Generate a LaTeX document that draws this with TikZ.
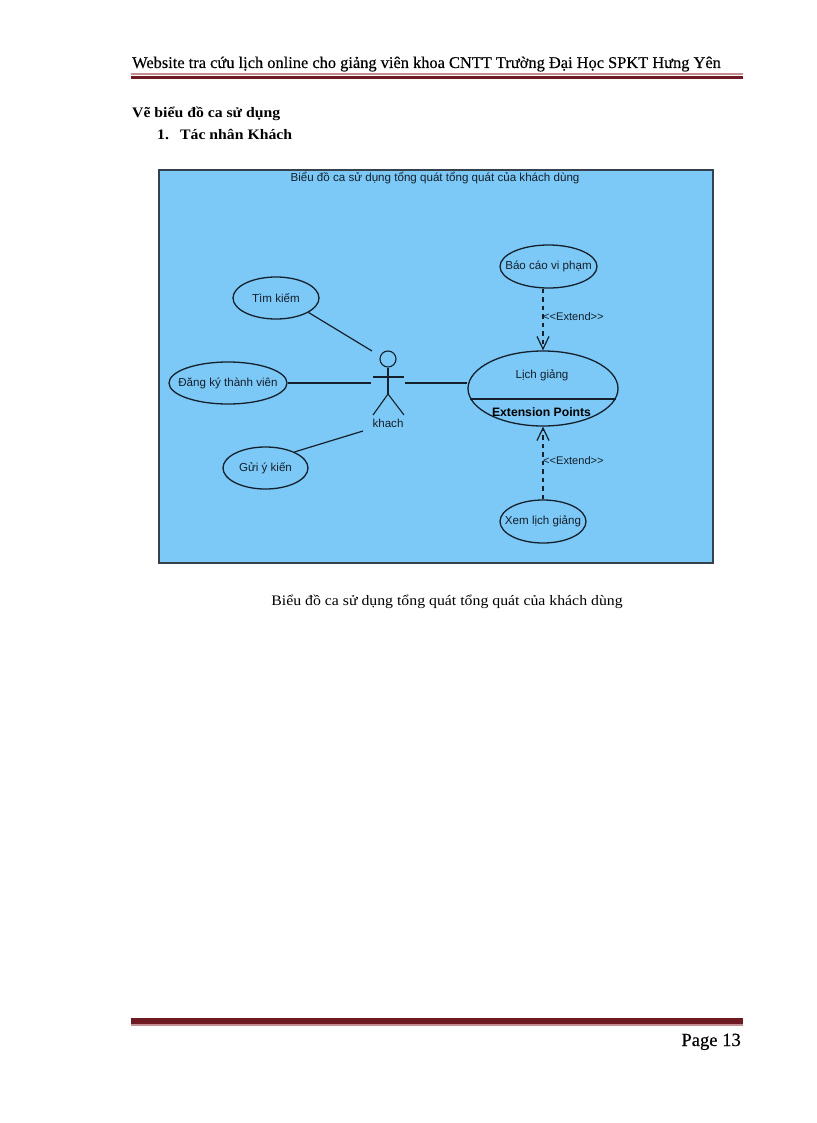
\documentclass[tikz,border=0pt]{standalone}
\usepackage{fontspec}
\setmainfont{Liberation Serif}
\setsansfont{Liberation Sans}
\newfontfamily\headfont[FakeBold=0.25]{Liberation Serif}
\usetikzlibrary{shapes.geometric,arrows.meta}
\definecolor{skyfill}{HTML}{7CC8F6}
\definecolor{ink}{HTML}{14202C}
\definecolor{ruledark}{HTML}{6E1A22}
\definecolor{rulelight}{HTML}{C48F92}
\newcommand{\dsf}{\sffamily\fontsize{11.6}{13}\selectfont}
\tikzset{
  x=1pt,y=-1pt,
  label text/.style={inner sep=0pt,font=\dsf,text=ink},
  usecase/.style={ellipse,draw=ink,line width=1.3pt,inner sep=0pt,label={[label text]center:#1}},
  assoc/.style={draw=ink,line width=1.2pt},
  stick/.style={draw=ink,line width=1.1pt},
  extend/.style={draw=ink,line width=1.2pt,dash pattern=on 4.5pt off 4pt,-{Straight Barb[length=12.5pt,width=12pt,line width=1.2pt]}},
  pagetext/.style={inner sep=0pt,anchor=base west,text=black},
  boldtext/.style={pagetext,font=\bfseries\fontsize{14.5}{16}\selectfont},
  rulethin/.style={draw=rulelight,line width=2.2pt},
  rulethick/.style={draw=ruledark,line width=3.4pt}
}
\begin{document}
\begin{tikzpicture}
\useasboundingbox (0,0) rectangle (816,1123);
\fill[white] (0,0) rectangle (816,1123);
% header
\node[pagetext,font=\headfont\fontsize{16.4}{18}\selectfont] (head) at (132,68) {Website tra cứu lịch online cho giảng viên khoa CNTT Trường Đại Học SPKT Hưng Yên};
\draw[rulethin] (131,74.4) -- (743,74.4);
\draw[rulethick] (131,77.7) -- (743,77.7);
% headings
\node[boldtext] (sec) at (132,118) {\scalebox{1.085}[1]{Vẽ biểu đồ ca sử dụng}};
\node[boldtext] (num) at (157,140) {\scalebox{1.085}[1]{1.}};
\node[boldtext] (sub) at (180,140) {\scalebox{1.085}[1]{Tác nhân Khách}};
% diagram frame
\node[draw=ink!85,line width=1.1pt,fill=skyfill,minimum width=554pt,minimum height=393pt,inner sep=0pt] (frame) at (436,366.5) {};
\node[label text] (title) at (435,178.5) {Biểu đồ ca sử dụng tổng quát tổng quát của khách dùng};
% use cases
\node[usecase={Tìm kiếm},minimum width=86pt,minimum height=42pt] (tim) at (276,298) {};
\node[usecase={Đăng ký thành viên},minimum width=118pt,minimum height=42pt] (dang) at (228,383) {};
\node[usecase={Gửi ý kiến},minimum width=85pt,minimum height=42pt] (gui) at (265.5,468) {};
\node[usecase={Báo cáo vi phạm},minimum width=97pt,minimum height=43pt] (bao) at (548.5,266.5) {};
\node[usecase={Xem lịch giảng},minimum width=86pt,minimum height=43pt] (xem) at (543,521.5) {};
\node[ellipse,draw=ink,line width=1.3pt,inner sep=0pt,minimum width=150pt,minimum height=75pt] (lich) at (543,388.5) {};
\node[label text] (lichtext) at (542,375.5) {Lịch giảng};
\node[label text,font=\sffamily\bfseries\fontsize{12.2}{13}\selectfont,text=black] (ext) at (541.5,412) {Extension Points};
\coordinate (divl) at (470,399);
\coordinate (divr) at (616,399);
\draw[assoc] (divl) -- (divr);
% actor
\node[circle,draw=ink,line width=1.1pt,minimum size=16pt,inner sep=0pt] (head actor) at (388,359) {};
\coordinate (hip) at (388,394);
\coordinate (armL) at (373,377);
\coordinate (armR) at (404,377);
\coordinate (footL) at (373,415);
\coordinate (footR) at (404,415);
\draw[stick] (head actor) -- (hip);
\draw[stick,line width=1.4pt] (armL) -- (armR);
\draw[stick] (footL) -- (hip) -- (footR);
\node[label text] (khach) at (388,423.5) {khach};
% associations
\coordinate (aTim) at (372,351);
\coordinate (aDang) at (371,383);
\coordinate (aGui) at (363,431);
\coordinate (aLich) at (405,383);
\draw[assoc] (tim.-24) -- (aTim);
\draw[assoc] (dang) -- (aDang);
\draw[assoc] (gui.29) -- (aGui);
\draw[assoc] (aLich) -- (lich.west |- aLich);
% extends
\draw[extend] (bao.south -| lich.north) -- (lich.north);
\draw[extend] (xem.north) -- (lich.south);
\node[label text,anchor=west,font=\sffamily\fontsize{11.1}{13}\selectfont] (ex1) at (543,317) {<{}<Extend>{}>};
\node[label text,anchor=west,font=\sffamily\fontsize{11.1}{13}\selectfont] (ex2) at (543,461) {<{}<Extend>{}>};
% caption
\node[inner sep=0pt,font=\fontsize{14.5}{16}\selectfont] (cap) at (447,602) {\scalebox{1.09}[1]{Biểu đồ ca sử dụng tổng quát tổng quát của khách dùng}};
% footer
\draw[rulethick,line width=5.5pt] (131,1021) -- (743,1021);
\draw[rulethin,line width=1.4pt] (131,1024.8) -- (743,1024.8);
\node[inner sep=0pt,anchor=base east,font=\headfont\fontsize{18.6}{20}\selectfont] (page) at (741,1046) {Page 13};
\end{tikzpicture}
\end{document}
